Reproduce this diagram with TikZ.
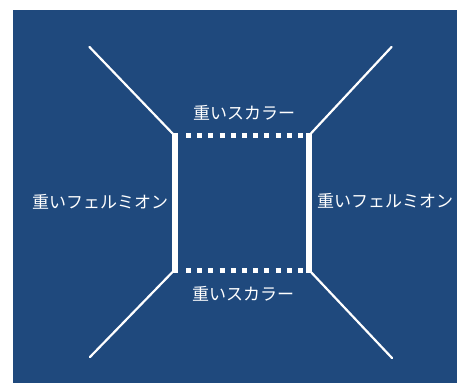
\documentclass[tikz,border=0pt]{standalone}
\usepackage{fontspec}
\newfontfamily\jpfont{Noto Sans CJK JP}
\definecolor{bgblue}{RGB}{31,73,125}
\begin{document}
\begin{tikzpicture}[x=1pt,y=-1pt,
  lbl/.style={text=white,font=\jpfont\fontsize{17}{20}\selectfont,inner sep=0pt},
  ext/.style={draw=white,line width=2.2pt,line cap=round},
  fermion/.style={draw=white,line width=6pt},
  scalar/.style={draw=white,line width=5pt,dash pattern=on 5pt off 6.2pt,shorten <=11.5pt,shorten >=5pt}]
\useasboundingbox (0,0) rectangle (457,383);
\fill[bgblue] (13,10) rectangle (457,383);
\coordinate (TL) at (174.5,135.5);
\coordinate (TR) at (309,135.5);
\coordinate (BL) at (174.5,270);
\coordinate (BR) at (309,270);
\coordinate (OTL) at (89.5,47);
\coordinate (OTR) at (391.5,47);
\coordinate (OBL) at (90,357);
\coordinate (OBR) at (392,358);
\draw[ext] (OTL) -- (TL);
\draw[ext] (OTR) -- (TR);
\draw[ext] (OBL) -- (BL);
\draw[ext] (OBR) -- (BR);
\draw[scalar] (TL) -- (TR);
\draw[scalar] (BL) -- (BR);
\draw[fermion] ([yshift=2.5pt]TL) -- ([yshift=-2.5pt]BL);
\draw[fermion] ([yshift=2.5pt]TR) -- ([yshift=-2.5pt]BR);
\node[lbl] (stop) at (244,113) {重いスカラー};
\node[lbl] (sbot) at (243,294) {重いスカラー};
\node[lbl] (fleft) at (100,202) {重いフェルミオン};
\node[lbl] (fright) at (385,201) {重いフェルミオン};
\end{tikzpicture}
\end{document}
